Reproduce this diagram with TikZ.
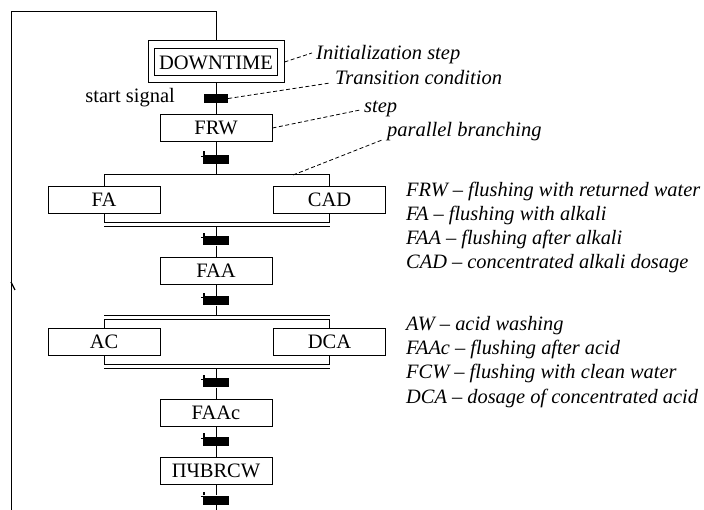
\documentclass[tikz,border=0pt]{standalone}
\usepackage{fontspec}
\setmainfont{Liberation Serif}
\begin{document}
\begin{tikzpicture}[x=1pt,y=-1pt,
  every node/.style={font=\fontsize{20.5pt}{24pt}\selectfont},
  line/.style={line width=1pt,black},
  stepbox/.style={draw,line width=1pt,minimum width=112pt,minimum height=27pt,inner sep=0pt},
  trans/.style={fill=black,minimum width=26pt,minimum height=9pt,inner sep=0pt},
  ann/.style={line width=0.8pt,dash pattern=on 4pt off 2.5pt},
  anntext/.style={anchor=base west,inner sep=0pt,font=\fontsize{20.5pt}{24pt}\selectfont\itshape},
  legend/.style={anchor=base west,inner sep=0pt,align=left,font=\fontsize{20.4pt}{24.3pt}\selectfont\itshape}
]
\useasboundingbox (0,0) rectangle (704,510);

% steps
\node[stepbox,minimum width=123pt] (dt) at (216,62.5) {DOWNTIME};
\node[draw,line width=1pt,minimum width=136pt,minimum height=42pt,inner sep=0pt] (dto) at (216,62) {};
\node[stepbox] (frw) at (216,128) {FRW};
\node[stepbox] (fa) at (104,200) {FA};
\node[stepbox] (cad) at (329.5,200) {CAD};
\node[stepbox] (faa) at (216,271) {FAA};
\node[stepbox] (ac) at (104,342) {AC};
\node[stepbox] (dca) at (329.5,342) {DCA};
\node[stepbox] (faac) at (216,412.5) {FAAc};
\node[stepbox] (pch) at (216,470.5) {ПЧBRCW};

% transitions
\node[trans,minimum width=24pt] (t1) at (216,98.5) {};
\node[trans] (t2) at (216,159.5) {};
\node[trans] (t3) at (216,241) {};
\node[trans] (t4) at (216,301) {};
\node[trans] (t5) at (216,383) {};
\node[trans] (t6) at (216,441.5) {};
\node[trans] (t7) at (216,500) {};
\foreach \t in {t2,t3,t4,t5,t6,t7}{
  \draw[line width=1.4pt] ([xshift=1.2pt]\t.north west) -- ++(0pt,3.5pt);
  \draw[line width=1.2pt] ([xshift=1.5pt,yshift=-1.5pt]\t.north west) -- ++(-3pt,0pt);
}

% coordinates
\coordinate (top) at (216,12);
\coordinate (lt) at (11,12);
\coordinate (lb) at (11,510);
\coordinate (bot) at (216,510);
\coordinate (arr) at (11,282);
\coordinate (p1m) at (216,175);
\coordinate (p1l) at (104,175);
\coordinate (p1r) at (329.5,175);
\coordinate (pb) at (293,175);
\coordinate (q1l) at (104,223);
\coordinate (q1r) at (329.5,223);
\coordinate (q1la) at (104,227);
\coordinate (q1ra) at (329.5,227);
\coordinate (q1m) at (216,227);
\coordinate (p2m) at (216,316);
\coordinate (p2l) at (104,316);
\coordinate (p2r) at (329.5,316);
\coordinate (p2la) at (104,320);
\coordinate (p2ra) at (329.5,320);
\coordinate (q2l) at (104,365);
\coordinate (q2r) at (329.5,365);
\coordinate (q2la) at (104,368.5);
\coordinate (q2ra) at (329.5,368.5);
\coordinate (q2m) at (216,368.5);

% connectors
\draw[line] (lb) -- (lt) -- (top) -- (dto);
\draw[line width=1.2pt] (arr) -- ++(4,8);
\draw[line] (dto) -- (t1) -- (frw) -- (t2) -- (p1m);
\draw[line] (p1l) -- (p1r);
\draw[line] (p1l) -- (fa);
\draw[line] (p1r) -- (cad);
\draw[line] (fa) -- (q1l);
\draw[line] (cad) -- (q1r);
\draw[line] (q1l) -- (q1r);
\draw[line] (q1la) -- (q1ra);
\draw[line] (q1m) -- (t3) -- (faa) -- (t4) -- (p2m);
\draw[line] (p2l) -- (p2r);
\draw[line] (p2la) -- (p2ra);
\draw[line] (p2la) -- (ac);
\draw[line] (p2ra) -- (dca);
\draw[line] (ac) -- (q2l);
\draw[line] (dca) -- (q2r);
\draw[line] (q2l) -- (q2r);
\draw[line] (q2la) -- (q2ra);
\draw[line] (q2m) -- (t5) -- (faac) -- (t6) -- (pch) -- (t7) -- (bot);

% labels
\node[anchor=base east,inner sep=0pt] (ss) at (175,103) {start signal};

% annotations
\node[anntext] (a1) at (316,60) {Initialization step};
\node[anntext] (a2) at (335,85) {Transition condition};
\node[anntext] (a3) at (364,113) {step};
\node[anntext] (a4) at (387,137) {parallel branching};
\draw[ann] (dto.east) -- ([shift={(-4pt,7pt)}]a1.base west);
\draw[ann] (t1.east) -- ([shift={(-5pt,2pt)}]a2.base west);
\draw[ann] (frw.east) -- ([shift={(-4pt,3pt)}]a3.base west);
\draw[ann] (pb) -- ([shift={(-5pt,-3pt)}]a4.base west);

% legend
\node[legend] (l1) at (406,269) {FRW \textendash{} flushing with returned water\\FA \textendash{} flushing with alkali\\FAA \textendash{} flushing after alkali\\CAD \textendash{} concentrated alkali dosage};
\node[legend] (l2) at (406,403) {AW \textendash{} acid washing\\FAAc \textendash{} flushing after acid\\FCW \textendash{} flushing with clean water\\DCA \textendash{} dosage of concentrated acid};
\end{tikzpicture}
\end{document}
